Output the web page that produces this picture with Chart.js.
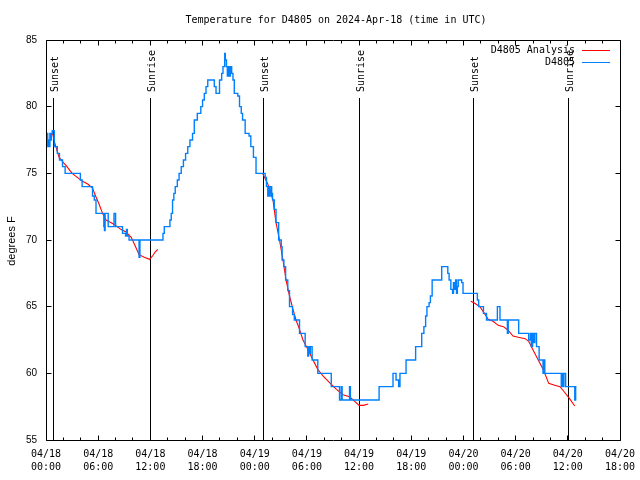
<!DOCTYPE html>
<html>
<head>
<meta charset="utf-8">
<script src="https://cdn.jsdelivr.net/npm/chart.js@4.4.1/dist/chart.umd.min.js"></script>
<style>
  html, body { margin: 0; padding: 0; background: #fff; }
</style>
</head>
<body>
<canvas id="tempChart" width="640" height="480"></canvas>
<script>
const titleText = "Temperature for D4805 on 2024-Apr-18 (time in UTC)";
const yLabel = "degrees F";
const seriesNames = ["D4805 Analysis", "D4805"];
const seriesColors = ["#ff0000", "#0080ff"];

// hours since 04/18 00:00 UTC
const xTickLabels = [
  ["04/18", "00:00"], ["04/18", "06:00"], ["04/18", "12:00"], ["04/18", "18:00"],
  ["04/19", "00:00"], ["04/19", "06:00"], ["04/19", "12:00"], ["04/19", "18:00"],
  ["04/20", "00:00"], ["04/20", "06:00"], ["04/20", "12:00"], ["04/20", "18:00"]
];
const yTicks = [55, 60, 65, 70, 75, 80, 85];

const sunHours = [0.84, 12.05, 25.04, 36.06, 49.1, 60.06];
const sunLabels = ["Sunset", "Sunrise", "Sunset", "Sunrise", "Sunset", "Sunrise"];

// station readings (value changes at each hour mark)
const blueHours = [
  0.10, 0.20, 0.30, 0.38, 0.45, 0.55, 0.62, 0.72, 0.95, 1.30, 1.55, 1.90, 2.20, 3.95, 4.15,
  5.35, 5.55, 5.75, 6.65, 6.72, 6.80, 7.00, 7.15, 7.82, 8.00, 8.80, 9.15, 9.25, 9.35, 9.55,
  10.70, 10.80, 13.45, 13.60, 14.25, 14.40, 14.55, 14.70, 14.86, 15.10, 15.30, 15.55, 15.80,
  16.05, 16.30, 16.55, 16.85, 17.05, 17.40, 17.80, 18.00, 18.20, 18.40, 18.60, 19.35, 19.55,
  19.95, 20.20, 20.35, 20.55, 20.62, 20.75, 20.85, 20.95, 21.10, 21.20, 21.35, 21.50, 21.65,
  22.05, 22.25, 22.45, 22.60, 22.90, 23.35, 23.55, 23.85, 24.15, 25.20, 25.35, 25.50, 25.58,
  25.70, 25.78, 25.95, 26.05, 26.25, 26.45, 26.75, 27.05, 27.15, 27.35, 27.55, 27.80, 28.00,
  28.35, 28.55, 29.15, 29.80, 30.10, 30.20, 30.30, 30.40, 30.60, 31.25, 32.80, 33.75, 33.95,
  34.05, 34.90, 35.00, 38.30, 39.90, 40.25, 40.55, 40.70, 41.40, 42.50, 43.20, 43.45, 43.65,
  43.80, 44.05, 44.20, 44.40, 45.50, 46.20, 46.35, 46.55, 46.75, 46.85, 47.00, 47.10, 47.20,
  47.30, 47.40, 47.80, 47.95, 49.60, 49.75, 50.30, 50.65, 51.90, 52.20, 53.05, 53.15, 54.35,
  55.50, 55.70, 55.80, 55.95, 56.10, 56.20, 56.40, 56.70, 57.15, 57.25, 57.35, 59.25, 59.35,
  59.45, 59.55, 59.75, 60.80, 60.90, 61.00
];
const blueTemps = [
  78, 77, 77.5, 77, 78, 77.5, 78, 78.2, 77, 76.5, 76, 75.5, 75, 74.5, 74,
  73.3, 73, 72, 71, 70.7, 72, 72, 71, 72, 71, 70.5, 70.3, 70.8, 70.3, 70,
  68.7, 70, 70.5, 71, 71.5, 72, 73, 73.5, 74, 74.5, 75, 75.5, 76,
  76.5, 77, 77.5, 78, 79, 79.5, 80, 80.5, 81, 81.5, 82, 81.5, 81,
  82, 82.5, 83, 84, 83.5, 83, 82.3, 83, 82.3, 83, 82.5, 82, 81,
  80.8, 80, 79.5, 79, 78, 77.8, 77, 76.2, 75, 74.7, 74, 73.3, 74,
  73.3, 74, 73.5, 73, 72.3, 71.3, 70, 69.5, 68.5, 68, 67, 66.2, 65,
  64.4, 64, 63, 62, 61.3, 62, 61.5, 62, 61, 60, 59, 58, 59,
  58, 59, 58, 59, 60, 59.5, 59, 60, 61, 62, 63, 63.5, 64.3,
  65, 65.3, 65.8, 67, 68, 67.5, 67, 66.3, 66, 66.8, 66.3, 67, 66,
  66.5, 67, 66.8, 66, 65.5, 65, 64.5, 64, 65, 64, 63, 64, 63,
  62.5, 63, 62, 63, 62.3, 63, 62, 61, 60, 61, 60, 59, 60,
  59, 60, 59, 58, 59, 59
];

// analysis, three runs separated by null
const redHours = [
  0.75, 1.0, 1.5, 2.0, 2.3, 3.0, 3.6, 4.2, 4.8, 5.35, 5.7, 6.1, 6.5, 6.9, 7.5, 8.0, 8.6, 9.2,
  9.8, 10.3, 10.7, 11.3, 11.9, 12.25, 12.55, 12.85,
  12.9,
  24.9, 25.2, 25.5, 25.8, 26.1, 26.45, 26.85, 27.25, 27.6, 28.0, 28.4, 28.75, 29.15, 29.55,
  30.1, 30.7, 31.25, 31.85, 32.6, 33.4, 34.15, 34.9, 35.5, 36.0, 36.5, 37.05,
  37.1,
  48.85, 49.3, 49.9, 50.5, 50.85, 51.4, 52.0, 52.6, 53.1, 53.7, 54.3, 55.1, 55.5, 56.0, 56.6,
  57.2, 57.8, 58.5, 59.1, 59.6, 60.2, 60.8
];
const redTemps = [
  78, 77.3, 76.2, 75.8, 75.6, 75, 74.7, 74.4, 74.2, 73.9, 73.3, 72.7, 72, 71.5, 71.3, 71.1, 70.8, 70.6,
  70.2, 69.5, 68.9, 68.7, 68.55, 68.8, 69.1, 69.3,
  null,
  75, 74.6, 74.2, 73.6, 73, 71.3, 70, 68.5, 67, 65.8, 64.8, 64, 63.3, 62.5,
  61.8, 61, 60.3, 59.8, 59.3, 58.8, 58.4, 58.25, 57.9, 57.6, 57.6, 57.7,
  null,
  65.4, 65.25, 65, 64.4, 64.05, 63.9, 63.6, 63.5, 63.25, 62.8, 62.7, 62.6, 62.4, 61.75, 61,
  60.25, 59.25, 59.1, 59, 58.6, 58.1, 57.55
];

const monoFont = "10px 'DejaVu Sans Mono'";

const decor = {
  id: "decor",
  beforeDatasetsDraw(chart) {
    const ctx = chart.ctx, x = chart.scales.x, area = chart.chartArea;
    ctx.save();
    ctx.strokeStyle = "#000";
    ctx.fillStyle = "#000";
    ctx.lineWidth = 1;
    ctx.font = monoFont;
    sunHours.forEach((h, i) => {
      const px = Math.floor(x.getPixelForValue(h)) + 0.5;
      ctx.beginPath();
      ctx.moveTo(px, area.top + 58);
      ctx.lineTo(px, area.bottom);
      ctx.stroke();
      ctx.save();
      ctx.translate(px + 1.5, area.top + 52);
      ctx.rotate(-Math.PI / 2);
      ctx.textAlign = "left";
      ctx.textBaseline = "middle";
      ctx.fillText(sunLabels[i], 0, 0);
      ctx.restore();
    });
    ctx.restore();
  },
  afterDraw(chart) {
    const ctx = chart.ctx, x = chart.scales.x, y = chart.scales.y, area = chart.chartArea;
    const l = Math.floor(area.left) + 0.5, r = Math.floor(area.right) + 0.5;
    const t = Math.floor(area.top) + 0.5, b = Math.floor(area.bottom) + 0.5;
    ctx.save();
    ctx.strokeStyle = "#000";
    ctx.lineWidth = 1;
    ctx.beginPath();
    ctx.rect(l, t, r - l, b - t);
    for (let h = 0; h <= 66; h += 2) {
      const px = Math.floor(x.getPixelForValue(h)) + 0.5;
      const len = h % 6 === 0 ? 5 : 3;
      ctx.moveTo(px, b); ctx.lineTo(px, b - len);
      ctx.moveTo(px, t); ctx.lineTo(px, t + len);
    }
    yTicks.forEach(v => {
      const py = Math.floor(y.getPixelForValue(v)) + 0.5;
      ctx.moveTo(l, py); ctx.lineTo(l + 5, py);
      ctx.moveTo(r, py); ctx.lineTo(r - 5, py);
    });
    ctx.stroke();

    ctx.fillStyle = "#000";
    ctx.font = monoFont;
    ctx.textAlign = "center";
    ctx.textBaseline = "middle";
    ctx.fillText(titleText, 336, 20);

    // legend
    ctx.textAlign = "right";
    seriesNames.forEach((name, i) => {
      const ly = 50 + i * 12.5;
      ctx.fillStyle = "#000";
      ctx.fillText(name, 575, ly);
      ctx.strokeStyle = seriesColors[i];
      ctx.beginPath();
      ctx.moveTo(582, Math.floor(ly) + 0.5);
      ctx.lineTo(610, Math.floor(ly) + 0.5);
      ctx.stroke();
    });

    ctx.save();
    ctx.translate(12, 241);
    ctx.rotate(-Math.PI / 2);
    ctx.textAlign = "center";
    ctx.fillStyle = "#000";
    ctx.font = "11px 'Liberation Sans'";
    ctx.fillText(yLabel, 0, 0);
    ctx.restore();
    ctx.restore();
  }
};

new Chart(document.getElementById("tempChart"), {
  type: "line",
  data: {
    datasets: [
      {
        label: seriesNames[0],
        borderColor: seriesColors[0],
        borderWidth: 1.1,
        pointRadius: 0,
        order: 1,
        data: redHours.map((h, i) => ({ x: h, y: redTemps[i] }))
      },
      {
        label: seriesNames[1],
        borderColor: seriesColors[1],
        borderWidth: 1.4,
        pointRadius: 0,
        stepped: "before",
        order: 0,
        data: blueHours.map((h, i) => ({ x: h, y: blueTemps[i] }))
      }
    ]
  },
  options: {
    responsive: false,
    animation: false,
    devicePixelRatio: 1,
    layout: { padding: { top: 40, right: 20, left: 0, bottom: 0 } },
    plugins: { legend: { display: false }, tooltip: { enabled: false }, title: { display: false } },
    scales: {
      x: {
        type: "linear",
        min: 0,
        max: 66,
        afterFit: s => { s.height = 40; s.paddingLeft = 0; s.paddingRight = 0; },
        afterBuildTicks: s => { s.ticks = xTickLabels.map((_, i) => ({ value: i * 6 })); },
        grid: { display: false, drawTicks: false },
        border: { display: false },
        ticks: {
          autoSkip: false,
          maxRotation: 0,
          padding: 8,
          color: "#000",
          font: { family: "DejaVu Sans Mono", size: 10, lineHeight: 1.3 },
          callback: (v, i) => xTickLabels[i]
        }
      },
      y: {
        min: 55,
        max: 85,
        afterFit: s => { s.width = 46; s.paddingTop = 0; s.paddingBottom = 0; },
        afterBuildTicks: s => { s.ticks = yTicks.map(v => ({ value: v })); },
        grid: { display: false, drawTicks: false },
        border: { display: false },
        ticks: {
          padding: 9,
          color: "#000",
          font: { family: "Liberation Sans", size: 10 }
        }
      }
    }
  },
  plugins: [decor]
});
</script>
</body>
</html>
